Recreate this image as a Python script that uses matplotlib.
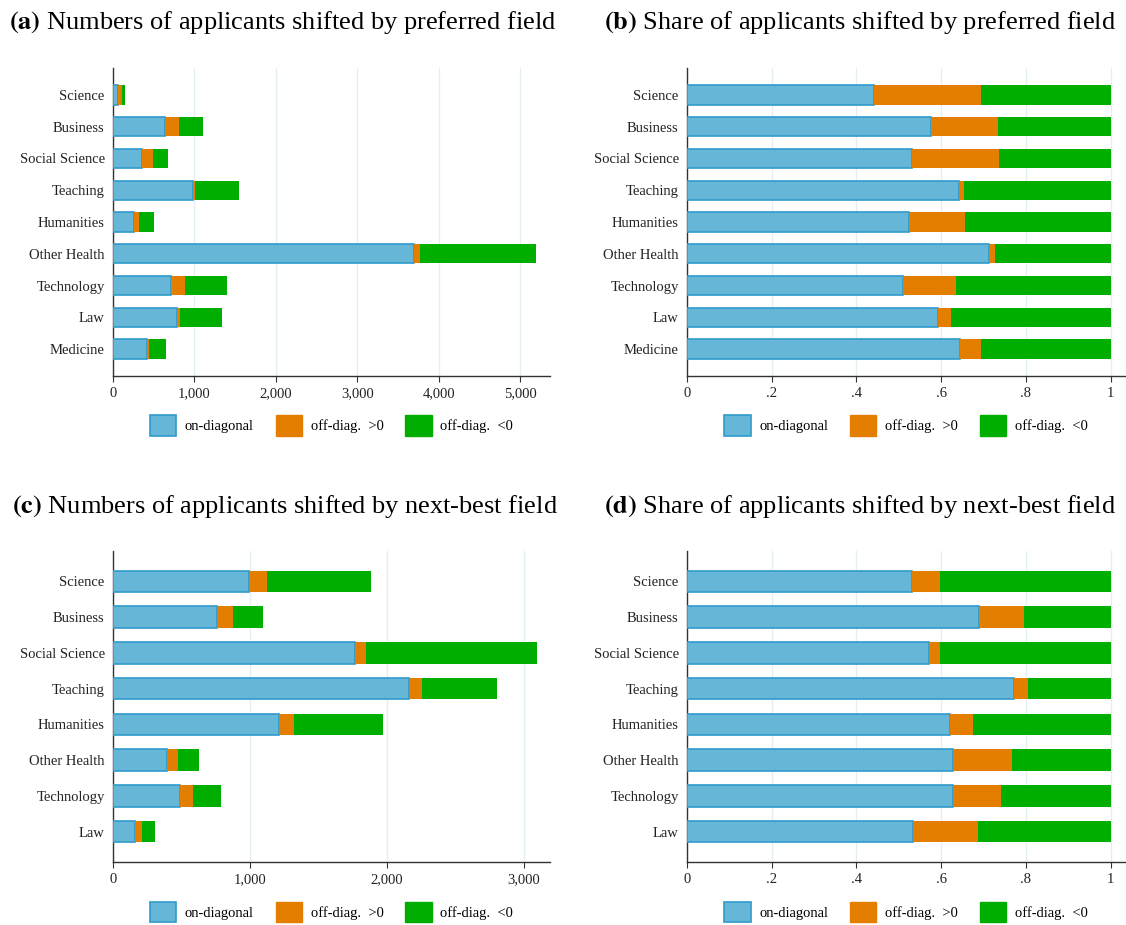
import matplotlib
matplotlib.use("Agg")
import matplotlib.pyplot as plt
from matplotlib.patches import Patch
import numpy as np

plt.rcParams['font.family'] = ['Liberation Serif', 'DejaVu Serif']

# preferred field (top row)
fields_pref = ["Science", "Business", "Social Science", "Teaching", "Humanities",
               "Other Health", "Technology", "Law", "Medicine"]
on_pref = [61, 639, 354, 985, 258, 3702, 718, 788, 420]
pos_pref = [44, 175, 132, 26, 66, 66, 170, 35, 26]
neg_pref = [48, 293, 184, 538, 184, 1422, 517, 512, 210]

share_on_pref = [.441, .577, .532, .642, .524, .713, .511, .593, .644]
share_pos_pref = [.253, .158, .205, .013, .133, .013, .123, .031, .050]

# next-best field (bottom row)
fields_next = ["Science", "Business", "Social Science", "Teaching", "Humanities",
               "Other Health", "Technology", "Law"]
on_next = [994, 757, 1769, 2163, 1216, 394, 490, 162]
pos_next = [128, 117, 76, 91, 109, 83, 92, 47]
neg_next = [759, 224, 1249, 548, 645, 154, 206, 101]

share_on_next = [.531, .690, .572, .773, .620, .627, .627, .533]
share_pos_next = [.067, .105, .026, .033, .056, .140, .115, .153]

labels = ["on-diagonal", "off-diag.  >0", "off-diag.  <0"]
c_on, c_on_edge = "#66b7d7", "#2f9bcc"
c_pos = "#e37e00"
c_neg = "#00ae00"


def stacked(ax, cats, a, b, c, xmax, ticks, ticklabels):
	n = len(cats)
	y = np.arange(n)
	a, b, c = np.array(a), np.array(b), np.array(c)
	ax.barh(y, a, height=0.6, color=c_on, edgecolor=c_on_edge, linewidth=1.2, zorder=3)
	ax.barh(y, b, left=a, height=0.6, color=c_pos, linewidth=0, zorder=3)
	ax.barh(y, c, left=a + b, height=0.6, color=c_neg, linewidth=0, zorder=3)
	ax.set_yticks(y)
	ax.set_yticklabels(cats, fontsize=10.5, color="#222222")
	ax.set_ylim(n - 1 + 0.85, -0.85)
	ax.set_xlim(0, xmax)
	ax.set_xticks(ticks)
	ax.set_xticklabels(ticklabels, fontsize=10.5, color="#222222")
	ax.xaxis.grid(True, color="#e3eef2", linewidth=0.9, zorder=0)
	ax.set_axisbelow(True)
	for s in ["top", "right"]:
		ax.spines[s].set_visible(False)
	for s in ["left", "bottom"]:
		ax.spines[s].set_color("#333333")
		ax.spines[s].set_linewidth(1.0)
	ax.tick_params(axis="y", length=0, pad=6)
	ax.tick_params(axis="x", length=4, width=0.8, color="#333333", pad=4)
	handles = [Patch(facecolor=c_on, edgecolor=c_on_edge, linewidth=1.2),
			   Patch(facecolor=c_pos, edgecolor=c_pos),
			   Patch(facecolor=c_neg, edgecolor=c_neg)]
	ax.legend(handles, labels, loc="upper center", bbox_to_anchor=(0.5, -0.085),
			  ncol=3, frameon=False, fontsize=10.5, handlelength=1.8,
			  handleheight=1.8, columnspacing=1.5, handletextpad=0.6)


def shares(on, pos):
	on, pos = np.array(on), np.array(pos)
	return on, pos, 1 - on - pos


fig = plt.figure(figsize=(11.26, 9.25), dpi=100)
W, H = 1126, 925

def add_ax(l, t, r, b):
	return fig.add_axes([l / W, 1 - b / H, (r - l) / W, (b - t) / H])

ax_a = add_ax(113, 68, 550, 376)
ax_b = add_ax(687, 68, 1125, 376)
ax_c = add_ax(113, 551, 550, 862)
ax_d = add_ax(687, 551, 1125, 862)

share_ticks = [0, .2, .4, .6, .8, 1]
share_labels = ["0", ".2", ".4", ".6", ".8", "1"]

stacked(ax_a, fields_pref, on_pref, pos_pref, neg_pref, 5368,
		[0, 1000, 2000, 3000, 4000, 5000], ["0", "1,000", "2,000", "3,000", "4,000", "5,000"])
stacked(ax_b, fields_pref, *shares(share_on_pref, share_pos_pref), 1.034,
		share_ticks, share_labels)
stacked(ax_c, fields_next, on_next, pos_next, neg_next, 3192,
		[0, 1000, 2000, 3000], ["0", "1,000", "2,000", "3,000"])
stacked(ax_d, fields_next, *shares(share_on_next, share_pos_next), 1.034,
		share_ticks, share_labels)

titles = [("(a)", "Numbers of applicants shifted by preferred field", 283, 22),
		  ("(b)", "Share of applicants shifted by preferred field", 860, 22),
		  ("(c)", "Numbers of applicants shifted by next-best field", 285, 507),
		  ("(d)", "Share of applicants shifted by next-best field", 860, 507)]
for tag, txt, cx, cy in titles:
	fig.text(cx / W, 1 - cy / H, r"$\bf{" + tag + "}$ " + txt, fontsize=19,
			 ha="center", va="center", math_fontfamily="stix")

fig.savefig("out.png", dpi=100)
